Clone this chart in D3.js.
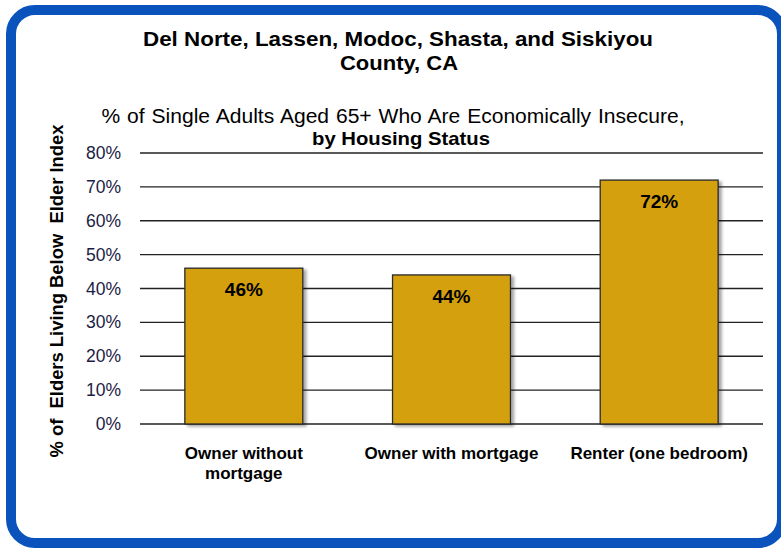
<!DOCTYPE html>
<html>
<head>
<meta charset="utf-8">
<script src="https://cdn.jsdelivr.net/npm/d3@7"></script>
<style>
  body { margin: 0; background: #fff; }
  svg { font-family: Arial, "Liberation Sans", sans-serif; }
</style>
</head>
<body>
<svg width="781" height="548"></svg>
<script>
const categories = [['Owner without', 'mortgage'], ['Owner with mortgage'], ['Renter (one bedroom)']];
const values = [46, 44, 72];
const yTicks = [0, 10, 20, 30, 40, 50, 60, 70, 80];

const svg = d3.select('svg');
const plot = { left: 140, right: 763, top: 153, bottom: 424 };

// frame
svg.append('rect')
  .attr('x', 11).attr('y', 10).attr('width', 771).attr('height', 533)
  .attr('rx', 24).attr('ry', 24)
  .attr('fill', '#fff').attr('stroke', '#0a52bc').attr('stroke-width', 10);

// titles
function label(x, y, size, weight, len, txt) {
  return svg.append('text').attr('x', x).attr('y', y).attr('text-anchor', 'middle')
    .attr('font-size', size).attr('font-weight', weight)
    .attr('textLength', len).attr('lengthAdjust', 'spacingAndGlyphs')
    .text(txt);
}
label(398, 46, 21, 'bold', 510, 'Del Norte, Lassen, Modoc, Shasta, and Siskiyou');
label(399, 70, 21, 'bold', 118, 'County, CA');
label(393, 123, 20, 'normal', 583, '% of Single Adults Aged 65+ Who Are Economically Insecure,')
  .attr('word-spacing', 1);
label(401, 145, 19, 'bold', 178, 'by Housing Status');

const x = d3.scaleBand()
  .domain(d3.range(values.length))
  .range([plot.left, plot.right])
  .paddingInner(0.432).paddingOuter(0.216);

const y = d3.scaleLinear().domain([0, 80]).range([plot.bottom, plot.top]);

// gridlines
svg.append('g').selectAll('line').data(yTicks).enter().append('line')
  .attr('x1', plot.left).attr('x2', plot.right)
  .attr('y1', d => y(d)).attr('y2', d => y(d))
  .attr('stroke', '#222').attr('stroke-width', 1.3);

// y axis labels
const yAxis = svg.append('g')
  .attr('transform', `translate(${plot.left}, 0)`)
  .call(d3.axisLeft(y).tickValues(yTicks).tickFormat(d => d + '%').tickSize(0).tickPadding(19));
yAxis.select('.domain').remove();
yAxis.selectAll('text').attr('font-size', 17.5).attr('fill', '#1c1c44')
  .attr('font-family', 'Arial, "Liberation Sans", sans-serif');

// y title
svg.append('text')
  .attr('transform', 'translate(63, 291) rotate(-90)')
  .attr('text-anchor', 'middle').attr('font-size', 17.5).attr('font-weight', 'bold')
  .attr('textLength', 333).attr('lengthAdjust', 'spacingAndGlyphs')
  .attr('xml:space', 'preserve')
  .text('% of  Elders Living Below  Elder Index');

// shadow
const defs = svg.append('defs');
const f = defs.append('filter').attr('id', 'sh').attr('x', '-10%').attr('y', '-10%').attr('width', '130%').attr('height', '130%');
f.append('feDropShadow').attr('dx', 3).attr('dy', 2).attr('stdDeviation', 1.5).attr('flood-color', '#000').attr('flood-opacity', 0.35);

// bars
svg.append('g').selectAll('rect').data(values).enter().append('rect')
  .attr('x', (d, i) => x(i)).attr('width', x.bandwidth())
  .attr('y', d => y(d)).attr('height', d => y(0) - y(d))
  .attr('fill', '#d4a010').attr('stroke', '#2a2a2a').attr('stroke-width', 1.3)
  .attr('filter', 'url(#sh)');

// value labels
svg.append('g').selectAll('text').data(values).enter().append('text')
  .attr('x', (d, i) => x(i) + x.bandwidth() / 2)
  .attr('y', d => y(d) + 28)
  .attr('text-anchor', 'middle').attr('font-size', 19).attr('font-weight', 'bold')
  .text(d => d + '%');

// category labels
const cat = svg.append('g').selectAll('text').data(categories).enter().append('text')
  .attr('x', (d, i) => x(i) + x.bandwidth() / 2)
  .attr('y', 459)
  .attr('text-anchor', 'middle').attr('font-size', 17).attr('font-weight', 'bold');
cat.selectAll('tspan').data(d => d).enter().append('tspan')
  .attr('x', function () { return d3.select(this.parentNode).attr('x'); })
  .attr('dy', (d, i) => i === 0 ? 0 : 20)
  .text(d => d);
</script>
</body>
</html>
